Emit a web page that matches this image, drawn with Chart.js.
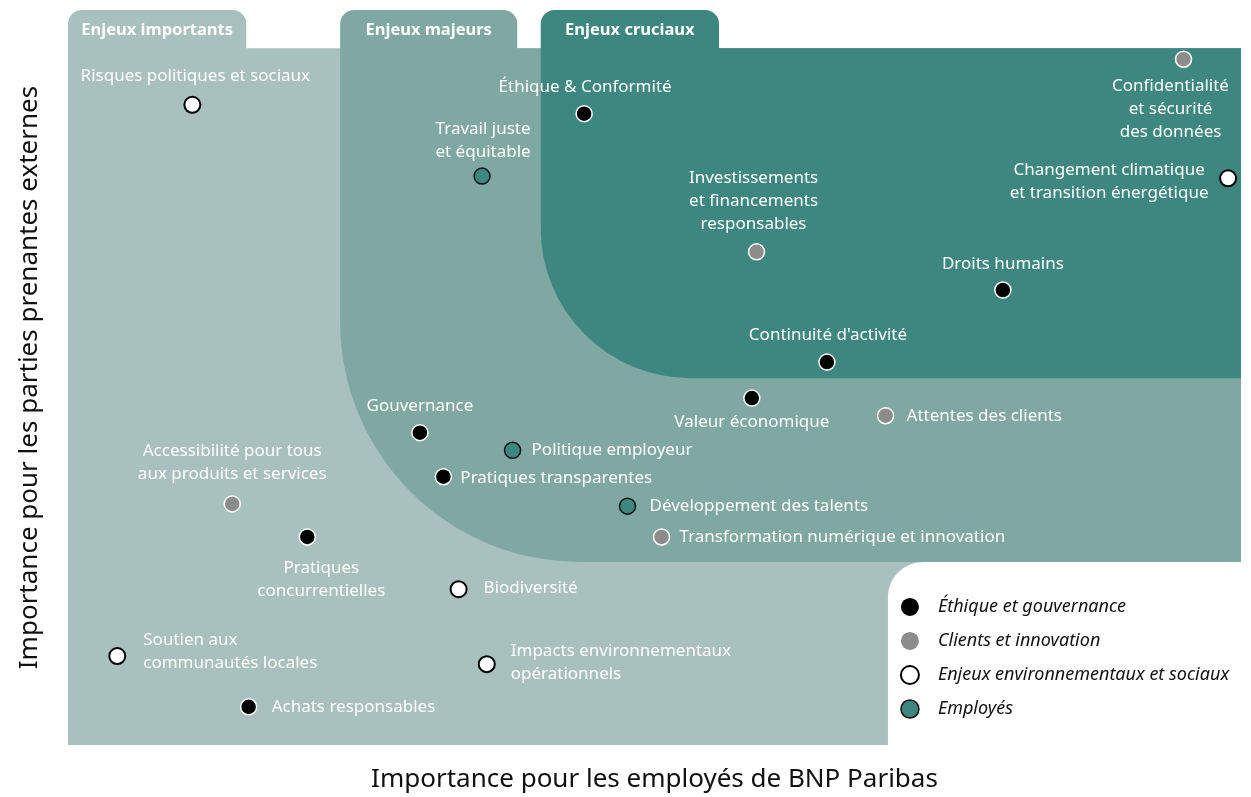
<!DOCTYPE html>
<html>
<head>
<meta charset="utf-8">
<script src="https://cdn.jsdelivr.net/npm/chart.js@4.4.0/dist/chart.umd.min.js"></script>
<style>
  body { margin: 0; background: #fff; }
</style>
</head>
<body>
<canvas id="matrix" width="1251" height="797"></canvas>
<script>
const categories = ['Éthique et gouvernance', 'Clients et innovation', 'Enjeux environnementaux et sociaux', 'Employés'];
const zoneNames = ['Enjeux importants', 'Enjeux majeurs', 'Enjeux cruciaux'];

const issues = [
  'Risques politiques et sociaux',
  'Éthique & Conformité',
  'Travail juste\net équitable',
  'Confidentialité\net sécurité\ndes données',
  'Changement climatique\net transition énergétique',
  'Investissements\net financements\nresponsables',
  'Droits humains',
  "Continuité d'activité",
  'Valeur économique',
  'Attentes des clients',
  'Gouvernance',
  'Politique employeur',
  'Pratiques transparentes',
  'Développement des talents',
  'Transformation numérique et innovation',
  'Accessibilité pour tous\naux produits et services',
  'Pratiques\nconcurrentielles',
  'Biodiversité',
  'Soutien aux\ncommunautés locales',
  'Impacts environnementaux\nopérationnels',
  'Achats responsables',
];
// index into categories
const issueCategory = [2, 0, 3, 1, 2, 1, 0, 0, 0, 1, 0, 3, 0, 3, 1, 1, 0, 2, 2, 2, 0];
// importance for employees (x) and external stakeholders (y), 0-100
const employeeScore = [10.6, 44.0, 35.3, 95.1, 98.9, 58.7, 79.7, 64.7, 58.3, 69.7, 30.0, 37.9, 32.0, 47.7, 50.6, 14.0, 20.4, 33.3, 4.2, 35.7, 15.4];
const stakeholderScore = [87.1, 85.9, 77.4, 93.3, 77.1, 67.1, 61.9, 52.1, 47.2, 44.8, 42.5, 40.1, 36.5, 32.5, 28.3, 32.8, 28.3, 21.2, 12.1, 11.0, 5.2];

// where each label sits around its dot: side, dx, dy (px)
const labelPlacement = [
  ['above', 3, -29], ['above', 1, -26], ['above', 1, -24], ['below', -13, 27],
  ['left', -119, 3.5], ['above', -3, -28], ['above', 0, -26], ['above', 1, -27],
  ['below', 0, 24], ['right', 21, 0], ['above', 0, -26], ['right', 19, 0],
  ['right', 17, 1], ['right', 22, 0], ['right', 18, 0], ['above', 0, -30],
  ['below', 14, 31], ['right', 25, -1], ['right', 26, -4.5], ['right', 24, -1.5],
  ['right', 23, 0],
];

const dotStyles = [
  { fill: '#000000', line: '#ffffff', width: 1.5 },
  { fill: '#8c8c8c', line: '#ffffff', width: 1.5 },
  { fill: '#ffffff', line: '#000000', width: 2 },
  { fill: '#3d8780', line: '#111111', width: 1.5 },
];

const datasets = categories.map((cat, c) => ({
  label: cat,
  data: issues.map((name, i) => ({ x: employeeScore[i], y: stakeholderScore[i], i }))
    .filter(p => issueCategory[p.i] === c),
  backgroundColor: dotStyles[c].fill,
  borderColor: dotStyles[c].line,
  borderWidth: dotStyles[c].width,
  pointRadius: 8,
}));

const FONT = "'Noto Sans', sans-serif";

function zoneShape(ctx, l, r, top, mainTop, tabRight, bottom, cb, tr) {
  ctx.beginPath();
  ctx.moveTo(l, bottom - cb);
  ctx.lineTo(l, top + tr);
  ctx.arcTo(l, top, l + tr, top, tr);
  ctx.arcTo(tabRight, top, tabRight, top + tr, tr);
  ctx.lineTo(tabRight, mainTop);
  ctx.lineTo(r, mainTop);
  ctx.lineTo(r, bottom);
  ctx.lineTo(l + cb, bottom);
  ctx.arcTo(l, bottom, l, bottom - cb, cb);
  ctx.closePath();
  ctx.fill();
}

const backdrop = {
  id: 'backdrop',
  beforeDatasetsDraw(chart) {
    const { ctx, chartArea: a, scales: { x, y } } = chart;
    const mainTop = y.getPixelForValue(94.8);
    const zones = [
      { l: 0, tab: 15.2, low: 0, color: '#a9c1be', cb: 0 },
      { l: 23.2, tab: 38.3, low: 24.9, color: '#80a8a3', cb: 240 },
      { l: 40.3, tab: 55.5, low: 49.9, color: '#3d8780', cb: 150 },
    ];
    ctx.save();
    zones.forEach((z, k) => {
      ctx.fillStyle = z.color;
      const l = x.getPixelForValue(z.l);
      const tr = x.getPixelForValue(z.tab);
      zoneShape(ctx, l, a.right, a.top, mainTop, tr, y.getPixelForValue(z.low), z.cb, 14);
      ctx.fillStyle = '#ffffff';
      ctx.font = "bold 16.5px " + FONT;
      ctx.textAlign = 'center';
      ctx.textBaseline = 'middle';
      ctx.fillText(zoneNames[k], (l + tr) / 2, (a.top + mainTop) / 2 + 1.5);
    });

    // legend panel
    const lgL = x.getPixelForValue(69.9);
    const lgTop = y.getPixelForValue(24.9);
    const rr = 35;
    ctx.fillStyle = '#ffffff';
    ctx.beginPath();
    ctx.moveTo(lgL, a.bottom);
    ctx.lineTo(lgL, lgTop + rr);
    ctx.arcTo(lgL, lgTop, lgL + rr, lgTop, rr);
    ctx.lineTo(a.right, lgTop);
    ctx.lineTo(a.right, a.bottom);
    ctx.closePath();
    ctx.fill();

    ctx.font = "italic 18px " + FONT;
    ctx.textAlign = 'left';
    ctx.textBaseline = 'middle';
    chart.data.datasets.forEach((ds, k) => {
      const cy = lgTop + 45 + k * 34;
      ctx.beginPath();
      ctx.arc(lgL + 22, cy, 9, 0, Math.PI * 2);
      ctx.fillStyle = ds.backgroundColor;
      ctx.fill();
      if (ds.borderColor !== '#ffffff') {
        ctx.lineWidth = ds.borderWidth;
        ctx.strokeStyle = ds.borderColor;
        ctx.stroke();
      }
      ctx.fillStyle = '#111111';
      ctx.fillText(ds.label, lgL + 50, cy);
    });
    ctx.restore();
  },
  afterDatasetsDraw(chart) {
    const { ctx } = chart;
    ctx.save();
    ctx.font = "17px " + FONT;
    ctx.fillStyle = '#ffffff';
    ctx.textBaseline = 'middle';
    const lh = 23;
    chart.data.datasets.forEach((ds, d) => {
      chart.getDatasetMeta(d).data.forEach((pt, j) => {
        const idx = ds.data[j].i;
        const lines = issues[idx].split('\n');
        const [side, dx, dy] = labelPlacement[idx];
        const n = lines.length;
        let y0;
        if (side === 'above') y0 = pt.y + dy - (n - 1) * lh;
        else if (side === 'below') y0 = pt.y + dy;
        else y0 = pt.y + dy - (n - 1) * lh / 2;
        ctx.textAlign = side === 'right' ? 'left' : 'center';
        lines.forEach((t, k) => ctx.fillText(t, pt.x + dx, y0 + k * lh));
      });
    });
    ctx.restore();
  },
};

new Chart(document.getElementById('matrix'), {
  type: 'scatter',
  data: { datasets },
  options: {
    responsive: false,
    animation: false,
    events: [],
    layout: { padding: { left: 14, right: 9, top: 10, bottom: 0 } },
    scales: {
      x: {
        min: 0, max: 100,
        ticks: { display: false },
        grid: { display: false, drawTicks: false },
        border: { display: false },
        title: {
          display: true,
          text: 'Importance pour les employés de BNP Paribas',
          color: '#111111',
          font: { family: FONT, size: 26 },
          padding: { top: 19.4, bottom: 1.4 },
        },
      },
      y: {
        min: 0, max: 100,
        ticks: { display: false },
        grid: { display: false, drawTicks: false },
        border: { display: false },
        title: {
          display: true,
          text: 'Importance pour les parties prenantes externes',
          color: '#111111',
          font: { family: FONT, size: 26 },
          padding: { top: 0, bottom: 22.8 },
        },
      },
    },
    plugins: {
      legend: { display: false },
      tooltip: { enabled: false },
    },
  },
  plugins: [backdrop],
});
</script>
</body>
</html>
